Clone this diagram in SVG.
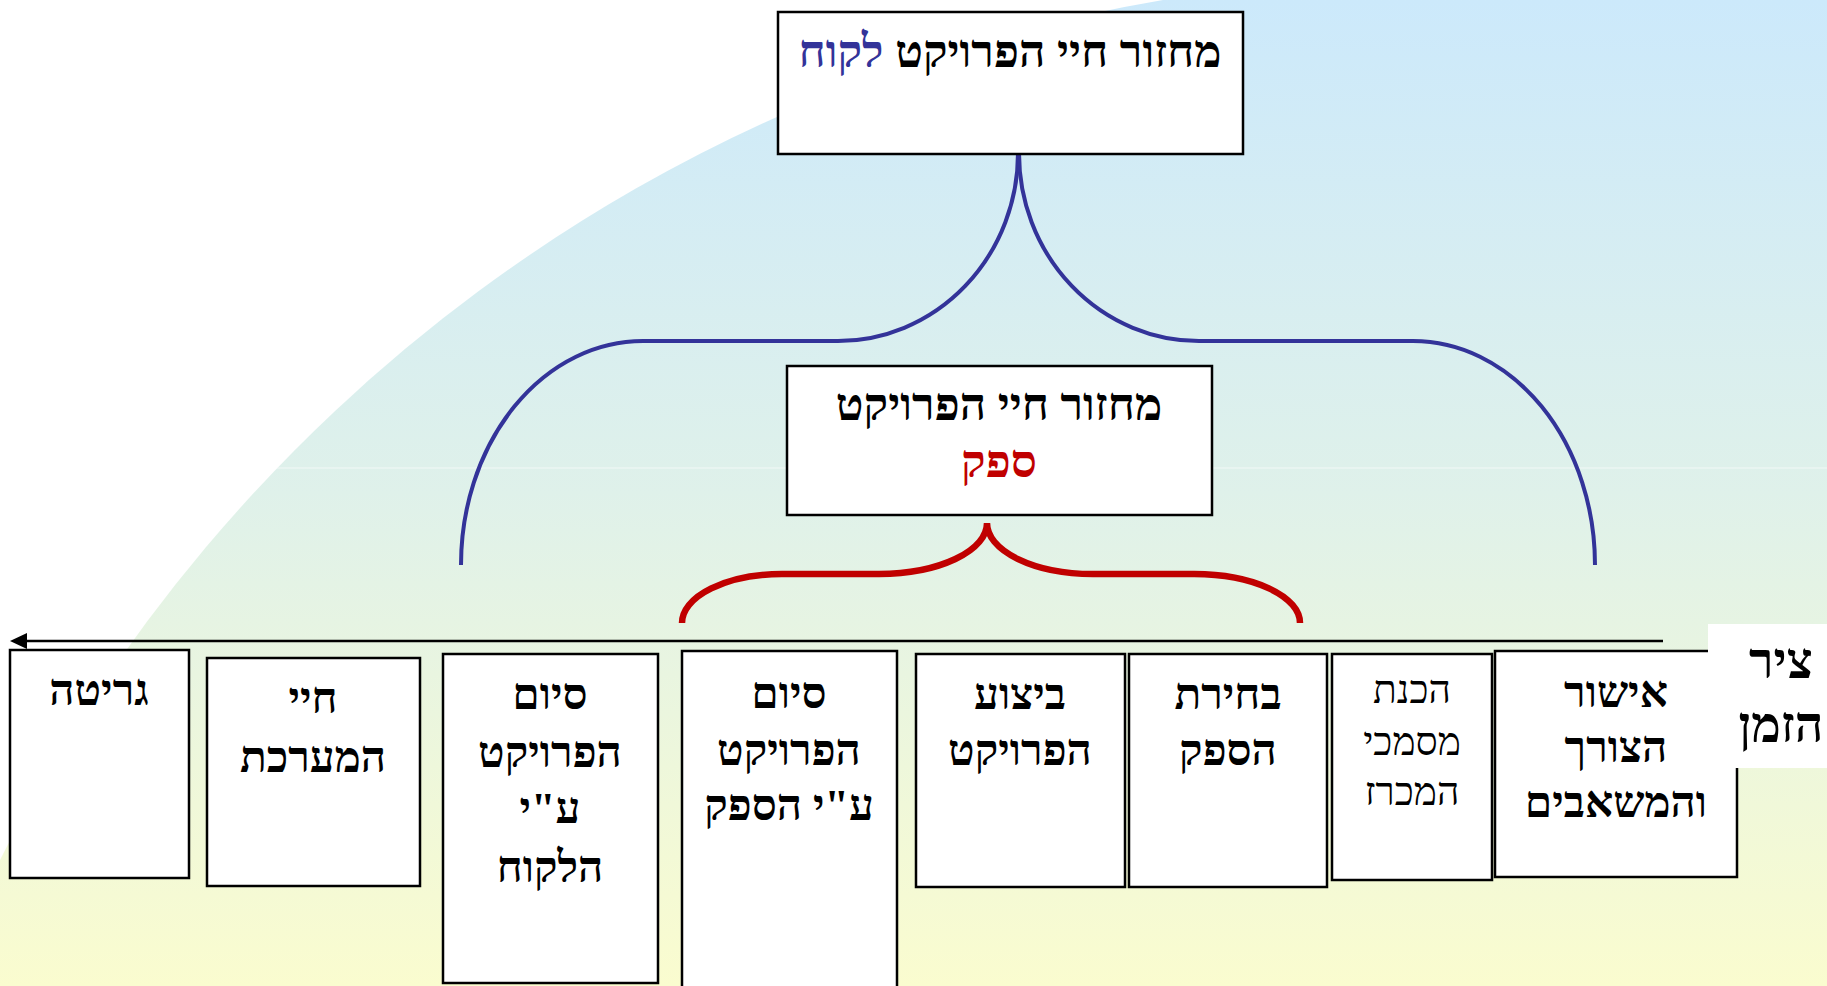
<svg xmlns="http://www.w3.org/2000/svg" width="1827" height="986" viewBox="0 0 1827 986">
<style>
.box{fill:#fff;stroke:#000;stroke-width:2.5}
.t{font-family:"Liberation Serif","DejaVu Sans",serif;font-weight:bold;font-size:44px;fill:#000;text-anchor:middle}
.big{font-size:46px}
.tn{font-weight:normal;font-size:39px}
.lbl{font-size:50px}
.redt{fill:#c00000}
.bluet{fill:#333399}
.blue{fill:none;stroke:#333399;stroke-width:4}
.red{fill:none;stroke:#c00000;stroke-width:6.5}
</style>
<defs>
<linearGradient id="bg" x1="0" y1="0" x2="0" y2="986" gradientUnits="userSpaceOnUse">
<stop offset="0" stop-color="#cce9fb"/>
<stop offset="0.5" stop-color="#dff1ea"/>
<stop offset="1" stop-color="#fafccf"/>
</linearGradient>
<clipPath id="arc"><path d="M1163,0 A1600,1600 0 0 0 0,860 L0,986 L1827,986 L1827,0 Z"/></clipPath>
</defs>
<rect x="0" y="0" width="1827" height="986" fill="#fff"/>
<path d="M1163,0 A1600,1600 0 0 0 0,860 L0,986 L1827,986 L1827,0 Z" fill="url(#bg)"/>
<line x1="0" y1="468" x2="1827" y2="468" stroke="#fff" stroke-opacity="0.6" stroke-width="1" clip-path="url(#arc)"/>

<g id="connectors">
<path class="blue" d="M461,565 A182,224 0 0 1 643,341 L838,341 A180,188 0 0 0 1018,153"/>
<path class="blue" d="M1019,153 A180,188 0 0 0 1199,341 L1413,341 A182,224 0 0 1 1595,565"/>
<path class="red" d="M682,623 A100,49 0 0 1 782,574 L879,574 A108,51 0 0 0 987,523 A106,51 0 0 0 1093,574 L1194,574 A106,49 0 0 1 1300,623"/>
</g>

<g id="customer">
<rect class="box" x="778" y="12" width="465" height="142"/>
<text class="t big" x="1010" y="67" direction="rtl">מחזור חיי הפרויקט <tspan class="bluet">לקוח</tspan></text>
</g>

<g id="supplier">
<rect class="box" x="787" y="366" width="425" height="149"/>
<text class="t big" x="999" y="420" direction="rtl">מחזור חיי הפרויקט</text>
<text class="t big redt" x="999" y="477" direction="rtl">ספק</text>
</g>

<g id="timeline">
<line x1="1663" y1="641" x2="24" y2="641" stroke="#000" stroke-width="2.5"/>
<polygon points="10,641 27,633 27,649" fill="#000"/>
</g>

<g id="box-scrap">
<rect class="box" x="10" y="650" width="179" height="228"/>
<text class="t" x="99" y="705" direction="rtl">גריטה</text>
</g>
<g id="box-life">
<rect class="box" x="207" y="658" width="213" height="228"/>
<text class="t" x="313" y="713" direction="rtl">חיי</text>
<text class="t" x="313" y="772" direction="rtl">המערכת</text>
</g>
<g id="box-end-customer">
<rect class="box" x="443" y="654" width="215" height="329"/>
<text class="t" x="550" y="709" direction="rtl">סיום</text>
<text class="t" x="550" y="767" direction="rtl">הפרויקט</text>
<text class="t" x="550" y="823" direction="rtl">ע"י</text>
<text class="t" x="550" y="882" direction="rtl">הלקוח</text>
</g>
<g id="box-end-supplier">
<rect class="box" x="682" y="651" width="215" height="345"/>
<text class="t" x="789" y="708" direction="rtl">סיום</text>
<text class="t" x="789" y="765" direction="rtl">הפרויקט</text>
<text class="t" x="789" y="820" direction="rtl">ע"י הספק</text>
</g>
<g id="box-exec">
<rect class="box" x="916" y="654" width="209" height="233"/>
<text class="t" x="1020" y="709" direction="rtl">ביצוע</text>
<text class="t" x="1020" y="765" direction="rtl">הפרויקט</text>
</g>
<g id="box-select">
<rect class="box" x="1129" y="654" width="198" height="233"/>
<text class="t" x="1228" y="709" direction="rtl">בחירת</text>
<text class="t" x="1228" y="765" direction="rtl">הספק</text>
</g>
<g id="box-tender">
<rect class="box" x="1332" y="654" width="160" height="226"/>
<text class="t tn" x="1412" y="703" direction="rtl">הכנת</text>
<text class="t tn" x="1412" y="755" direction="rtl">מסמכי</text>
<text class="t tn" x="1412" y="805" direction="rtl">המכרז</text>
</g>
<g id="box-approve">
<rect class="box" x="1495" y="651" width="242" height="226"/>
<text class="t" x="1616" y="707" direction="rtl">אישור</text>
<text class="t" x="1616" y="762" direction="rtl">הצורך</text>
<text class="t" x="1616" y="817" direction="rtl">והמשאבים</text>
</g>
<g id="axis-label">
<rect x="1708" y="624" width="119" height="144" fill="#fff"/>
<text class="t lbl" x="1781" y="678" direction="rtl">ציר</text>
<text class="t lbl" x="1781" y="742" direction="rtl">הזמן</text>
</g>
</svg>
